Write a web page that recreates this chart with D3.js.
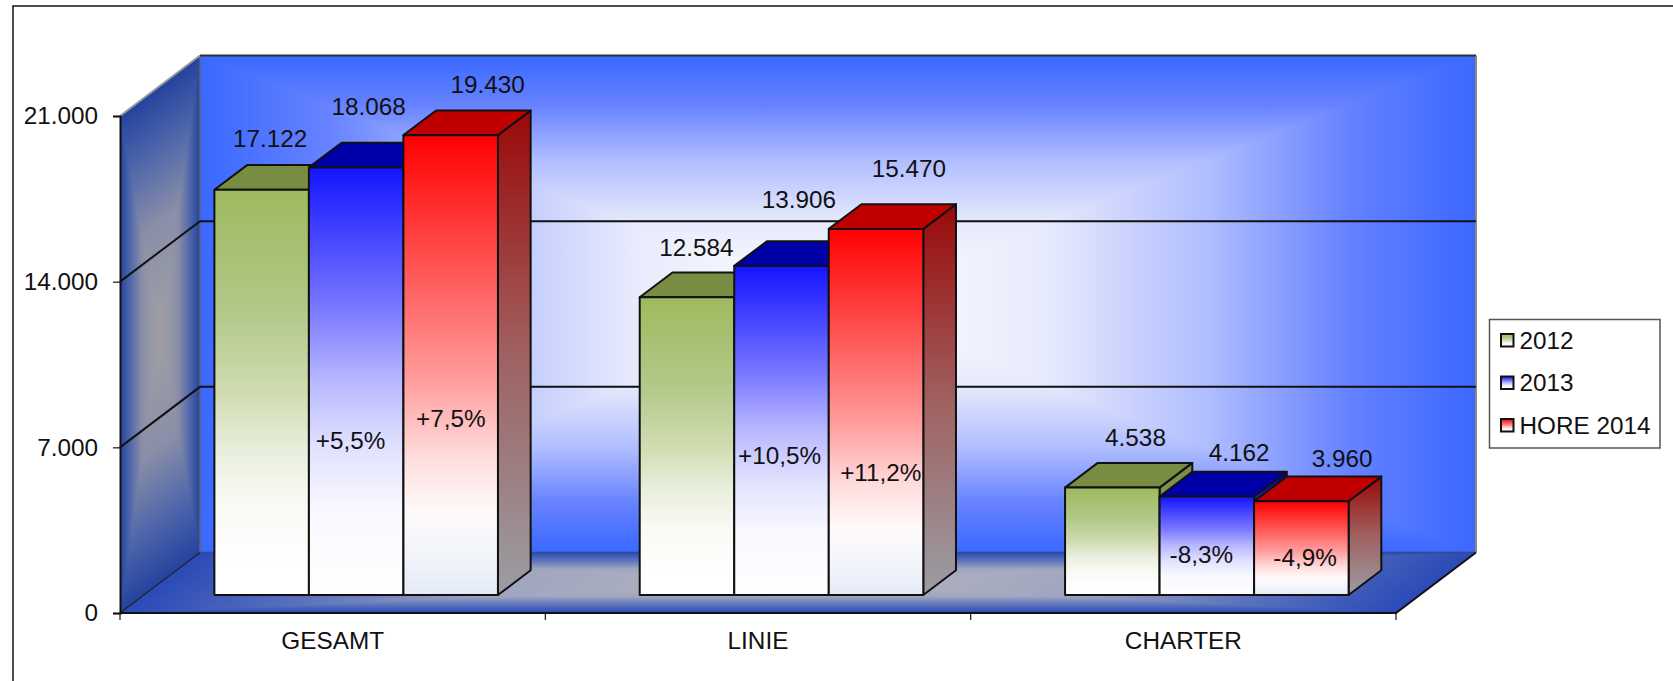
<!DOCTYPE html>
<html>
<head>
<meta charset="utf-8">
<script src="https://cdn.jsdelivr.net/npm/d3@7/dist/d3.min.js"></script>
<style>
  html, body { margin: 0; padding: 0; background: #fff; overflow: hidden; }
  text { font-family: "Liberation Sans", Arial, sans-serif; font-size: 24.3px; fill: #111; }
</style>
</head>
<body>
<svg id="chart" width="1673" height="681"></svg>
<script>
const categories = ["GESAMT", "LINIE", "CHARTER"];
const seriesNames = ["2012", "2013", "HORE 2014"];
const values2012 = [17122, 12584, 4538];
const values2013 = [18068, 13906, 4162];
const values2014 = [19430, 15470, 3960];
const change2013 = ["+5,5%", "+10,5%", "-8,3%"];
const change2014 = ["+7,5%", "+11,2%", "-4,9%"];
const yTicks = [0, 7000, 14000, 21000];

// frame of the fake 3d box
const front = { left: 120, right: 1396, top: 116, bottom: 613 };
const wallDx = 80, wallDy = -60.5;   // depth of the box
const barDx = 32.7, barDy = -24.7;   // depth of a bar
const barShiftX = 23.5, barBase = 595;

// labels were placed by hand in the original, [dx, dy] from the bar's front top centre
const valueNudge = [
    [[8.4, -43], [9.4, -41.1], [23.2, -41.6]],
    [[12.4, -52.3], [17.3, -57.5], [32.2, -35.8]],
    [[36.9, -42.3], [32.8, -52.1], [40.7, -34]]
];
const changeNudge = [
    null,
    [[-5.6, 282], [-2, 198.2], [-5.5, 66.8]],
    [[0.2, 292.3], [4.8, 251.9], [3.7, 64.4]]
];

const svg = d3.select("#chart");
const defs = svg.append("defs");

function addGradient(id, stops, horizontal, unitSpace) {
    const g = defs.append("linearGradient").attr("id", id)
        .attr("x1", 0).attr("y1", 0)
        .attr("x2", horizontal ? 1 : 0).attr("y2", horizontal ? 0 : 1);
    if (unitSpace) g.attr("gradientUnits", "userSpaceOnUse");
    stops.forEach(s => g.append("stop").attr("offset", s[0]).attr("stop-color", s[1]));
}

// rectangular "from centre" gradient: stops run edge -> centre, mirrored here
function addBoxGradient(id, stops) {
    const mirrored = stops.map(s => [s[0] / 2, s[1]])
        .concat(stops.slice().reverse().map(s => [1 - s[0] / 2, s[1]]));
    addGradient(id + "X", mirrored, true, true);
    addGradient(id + "Y", mirrored, false, true);
}

function drawSurface(id, p00, p10, p01) {
    const g = svg.append("g").attr("transform",
        `matrix(${p10[0]-p00[0]},${p10[1]-p00[1]},${p01[0]-p00[0]},${p01[1]-p00[1]},${p00[0]},${p00[1]})`);
    g.append("rect").attr("width", 1).attr("height", 1).attr("fill", `url(#${id}X)`);
    g.append("path").attr("d", "M0,0L1,0L0.5,0.5Z").attr("fill", `url(#${id}Y)`);
    g.append("path").attr("d", "M0,1L1,1L0.5,0.5Z").attr("fill", `url(#${id}Y)`);
}

addBoxGradient("back", [[0, "#3a68ff"], [0.2, "#6682ff"], [0.42, "#b0bdff"], [0.68, "#e8ebfc"], [1, "#ffffff"]]);
addBoxGradient("side", [[0, "#24439f"], [0.25, "#4f66aa"], [0.55, "#8a8fa8"], [1, "#a0a0a3"]]);
addBoxGradient("floor", [[0, "#2a4ab8"], [0.25, "#5870bc"], [0.55, "#a0a6c0"], [1, "#b6b6bc"]]);

const frontStops = [
    [[0, "#9dbb5d"], [0.29, "#b0c888"], [0.5, "#d0dcb0"], [0.64, "#e8eedc"], [0.77, "#f8faf4"], [0.92, "#ffffff"], [1, "#ffffff"]],
    [[0, "#1414ff"], [0.33, "#7a78ff"], [0.5, "#b8b8ff"], [0.65, "#e0e0ff"], [0.8, "#f8f8ff"], [1, "#ffffff"]],
    [[0, "#ff0000"], [0.33, "#ff6060"], [0.53, "#ff9c9c"], [0.7, "#ffdcdc"], [0.82, "#fffafa"], [0.93, "#f0f4fa"], [1, "#e4eaf6"]]
];
const topColors = ["#788c42", "#0000a8", "#c00000"];
const sideStops = [
    [[0, "#788c42"], [1, "#a0a4a0"]],
    [[0, "#0000a8"], [1, "#a0a0a8"]],
    [[0, "#9a0808"], [0.5, "#a06060"], [1, "#9a9ea4"]]
];
frontStops.forEach((s, i) => addGradient("front" + i, s));
sideStops.forEach((s, i) => addGradient("barside" + i, s));

// scales
const xGroup = d3.scaleBand().domain(categories).range([front.left, front.right]);
const step = xGroup.step();
const xBar = d3.scaleBand().domain(seriesNames).range([step / 6, step * 5 / 6]);
const yAxisScale = d3.scaleLinear().domain([0, 21000]).range([front.bottom, front.top]);
const yBar = d3.scaleLinear().domain([0, 21000]).range([barBase, barBase - (front.bottom - front.top)]);

// outer chart border, right and bottom run off the picture
svg.append("path").attr("d", "M13,681V6H1673").attr("fill", "none").attr("stroke", "#111").attr("stroke-width", 1.5);

// walls and floor
const backLeft = front.left + wallDx, backRight = front.right + wallDx;
const backTop = front.top + wallDy, backBottom = front.bottom + wallDy;
drawSurface("back", [backLeft, backTop], [backRight, backTop], [backLeft, backBottom]);
drawSurface("side", [front.left, front.top], [backLeft, backTop], [front.left, front.bottom]);
drawSurface("floor", [backLeft, backBottom], [backRight, backBottom], [front.left, front.bottom]);

const frameLine = (d, color, w) => svg.append("path").attr("d", d).attr("fill", "none").attr("stroke", color).attr("stroke-width", w);
frameLine(`M${backLeft},${backBottom}V${backTop}`, "#666", 1.5);
frameLine(`M${backRight},${backBottom}V${backTop}`, "#8a8a8a", 2);
frameLine(`M${front.left},${front.top}L${backLeft},${backTop}`, "#999", 2);
frameLine(`M${backLeft},${backTop}H${backRight}`, "#333", 2);
frameLine(`M${backLeft},${backBottom}H${backRight}`, "#3a4a80", 1.5);
frameLine(`M${front.left},${front.bottom}L${backLeft},${backBottom}`, "#222", 1.2);

// gridlines over side wall and back wall
yTicks.filter(t => t > 0 && t < 21000).forEach(t => {
    const y = yAxisScale(t);
    frameLine(`M${front.left},${y}L${backLeft},${y + wallDy}H${backRight}`, "#111", 2);
});

// front edges
frameLine(`M${front.left},${front.bottom}H${front.right}L${backRight},${backBottom}`, "#111", 2);

// axes
const fmt = d3.formatLocale({ decimal: ",", thousands: ".", grouping: [3], currency: ["", ""] }).format(",d");
const yAxis = svg.append("g").attr("transform", `translate(${front.left},0)`)
    .call(d3.axisLeft(yAxisScale).tickValues(yTicks).tickFormat(fmt).tickSize(7).tickPadding(15));
yAxis.select(".domain").attr("stroke", "#111").attr("stroke-width", 2);
yAxis.selectAll("line").attr("stroke", "#111").attr("stroke-width", 1.2);
yAxis.attr("font-family", null).attr("font-size", null);

const xAxis = svg.append("g").attr("transform", `translate(0,${front.bottom})`)
    .call(d3.axisBottom(xGroup).tickSize(0).tickPadding(0));
xAxis.select(".domain").remove();
xAxis.selectAll("text").attr("y", 36).attr("dy", 0);
xAxis.attr("font-family", null).attr("font-size", null);

// ticks sit between the categories, not on the band centres
svg.append("g").selectAll("line")
    .data(categories.map(c => xGroup(c)).concat([front.right]))
    .join("line")
    .attr("x1", d => d).attr("x2", d => d)
    .attr("y1", front.bottom).attr("y2", front.bottom + 7)
    .attr("stroke", "#111").attr("stroke-width", 1.2);

// bars, left to right so that the next bar covers the previous side face
const seriesValues = [values2012, values2013, values2014];
const bars = [];
categories.forEach((cat, c) => {
    seriesNames.forEach((name, s) => {
        const x = xGroup(cat) + barShiftX + xBar(name);
        bars.push({ c, s, x, w: xBar.bandwidth(), y: yBar(seriesValues[s][c]) });
    });
});

const barG = svg.append("g").selectAll("g").data(bars).join("g")
    .attr("stroke", "#111").attr("stroke-width", 2).attr("stroke-linejoin", "round");
barG.append("path") // side
    .attr("d", d => `M${d.x + d.w},${d.y}l${barDx},${barDy}V${barBase + barDy}l${-barDx},${-barDy}Z`)
    .attr("fill", d => `url(#barside${d.s})`);
barG.append("path") // top
    .attr("d", d => `M${d.x},${d.y}l${barDx},${barDy}h${d.w}l${-barDx},${-barDy}Z`)
    .attr("fill", d => topColors[d.s]);
barG.append("rect") // front
    .attr("x", d => d.x).attr("y", d => d.y)
    .attr("width", d => d.w).attr("height", d => barBase - d.y)
    .attr("fill", d => `url(#front${d.s})`);

// value labels above the bars and percent change inside them
svg.append("g").selectAll("text").data(bars).join("text")
    .attr("text-anchor", "middle")
    .attr("x", d => d.x + d.w / 2 + valueNudge[d.s][d.c][0])
    .attr("y", d => d.y + valueNudge[d.s][d.c][1])
    .text(d => fmt(seriesValues[d.s][d.c]));

const changes = [null, change2013, change2014];
svg.append("g").selectAll("text").data(bars.filter(d => d.s > 0)).join("text")
    .attr("text-anchor", "middle")
    .attr("x", d => d.x + d.w / 2 + changeNudge[d.s][d.c][0])
    .attr("y", d => d.y + changeNudge[d.s][d.c][1])
    .text(d => changes[d.s][d.c]);

// legend
const legend = svg.append("g").attr("transform", "translate(1489.5,319.5)");
legend.append("rect").attr("width", 170.5).attr("height", 128.5)
    .attr("fill", "#fff").attr("stroke", "#555").attr("stroke-width", 1.5);
const legendY = d3.scalePoint().domain(seriesNames).range([21, 106]);
const legendRow = legend.selectAll("g").data(seriesNames).join("g")
    .attr("transform", d => `translate(0,${legendY(d)})`);
legendRow.append("rect")
    .attr("x", 11.5).attr("y", -6.5).attr("width", 12.5).attr("height", 12.5)
    .attr("fill", (d, i) => `url(#front${i})`)
    .attr("stroke", "#111").attr("stroke-width", 2);
legendRow.append("text").attr("x", 30).attr("y", 8).text(d => d);
</script>
</body>
</html>
